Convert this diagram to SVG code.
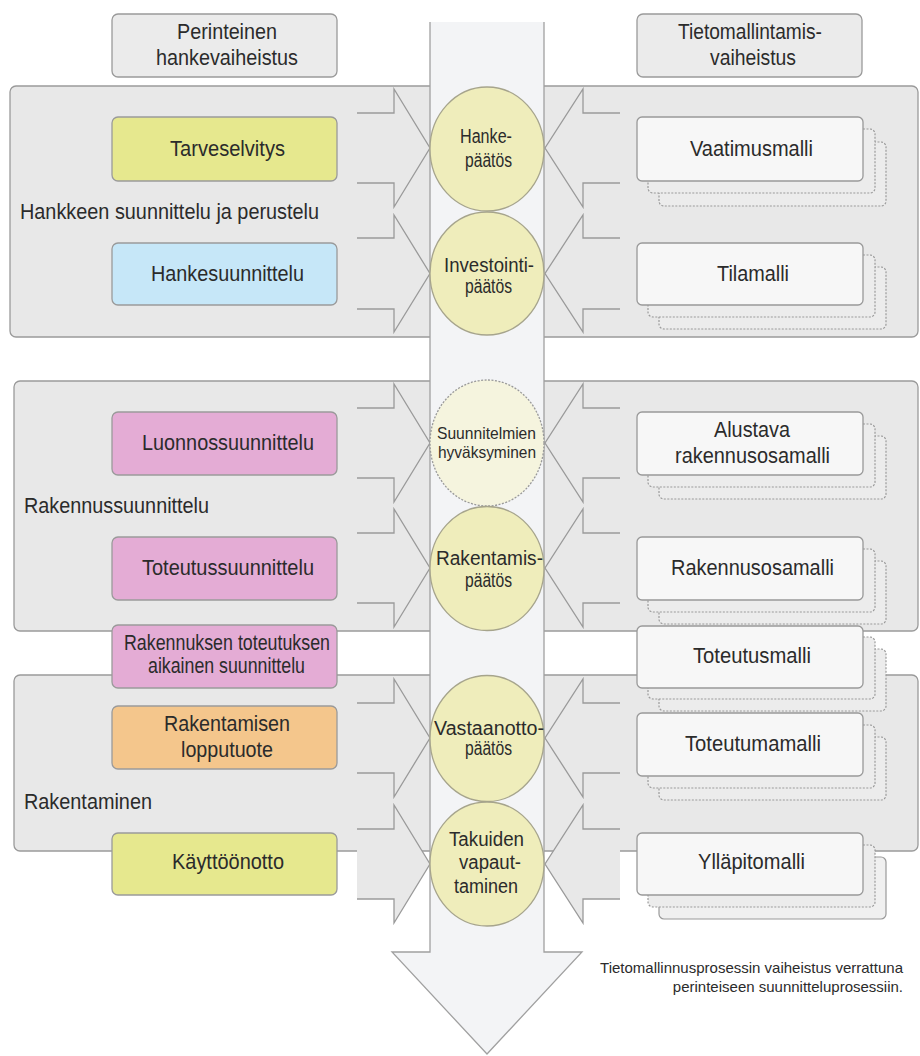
<svg xmlns="http://www.w3.org/2000/svg" width="920" height="1056" viewBox="0 0 920 1056">
<style>
.panel{fill:#e8e8e8;stroke:#9a9a9a;stroke-width:1.3}
.hdr{fill:#ebebeb;stroke:#9a9a9a;stroke-width:1.3}
.chev{fill:#e8e8e8;stroke:#9a9a9a;stroke-width:1.3}
.shaftfill{fill:#f3f4f6}
.shaftline{fill:none;stroke:#a0a0a0;stroke-width:1.3}
.circ{fill:#efedbb;stroke:#a6a48c;stroke-width:1.3}
.circd{fill:#f5f4de;stroke:#999;stroke-width:1.3;stroke-dasharray:2 1.5}
.lbox{stroke:#9a9a9a;stroke-width:1.3}
.ylw{fill:#e6e88e}
.blu{fill:#c6e7f8}
.pnk{fill:#e4acd5}
.org{fill:#f4c68c}
.mbox{fill:#f7f7f7;stroke:#999;stroke-width:1.3}
.copy{fill:#ececec;stroke:#9a9a9a;stroke-width:1.2;stroke-dasharray:2 1.5}
.copys{fill:#f0f0f0;stroke:#9a9a9a;stroke-width:1.2}
text{font-family:"Liberation Sans",Arial,sans-serif;fill:#2b2b2b}
.t{font-size:22px}
.c{font-size:19.5px}
.cs{font-size:16.5px}
.cap{font-size:15px;text-anchor:end}
</style>

<g id="panels">
<rect class="panel" x="10" y="86" width="908" height="251" rx="6"/>
<rect class="panel" x="14" y="381" width="904" height="250" rx="6"/>
<rect class="panel" x="14" y="675" width="904" height="176" rx="6"/>
<text class="t" x="20" y="219" textLength="299" lengthAdjust="spacingAndGlyphs">Hankkeen suunnittelu ja perustelu</text>
<text class="t" x="24" y="513" textLength="185" lengthAdjust="spacingAndGlyphs">Rakennussuunnittelu</text>
<text class="t" x="24" y="809" textLength="128" lengthAdjust="spacingAndGlyphs">Rakentaminen</text>
</g>

<g id="headers">
<g id="hdr-left">
<rect class="hdr" x="112" y="14" width="225" height="63" rx="6"/>
<text class="t" x="177" y="39" textLength="100" lengthAdjust="spacingAndGlyphs">Perinteinen</text>
<text class="t" x="156" y="65" textLength="142" lengthAdjust="spacingAndGlyphs">hankevaiheistus</text>
</g>
<g id="hdr-right">
<rect class="hdr" x="637" y="14" width="225" height="63" rx="6"/>
<text class="t" x="678" y="39" textLength="144" lengthAdjust="spacingAndGlyphs">Tietomallintamis-</text>
<text class="t" x="710" y="65" textLength="86" lengthAdjust="spacingAndGlyphs">vaiheistus</text>
</g>
</g>

<g id="connectors">
<path class="chev" d="M357,113 H394 V89 L430,148 L394,207 V183 H357"/>
<path class="chev" d="M357,238 H394 V215 L430,273.5 L394,332 V309 H357"/>
<path class="chev" d="M357,408 H394 V384 L430,443 L394,502 V478 H357"/>
<path class="chev" d="M357,533 H394 V509 L430,568 L394,627 V603 H357"/>
<path class="chev" d="M357,703 H394 V679 L430,738 L394,797 V773 H357"/>
<path class="chev" d="M357,829 H394 V805 L430,864 L394,923 V899 H357"/>
<path class="chev" d="M620,113 H583 V89 L545,148 L583,207 V183 H620"/>
<path class="chev" d="M620,238 H583 V215 L545,273.5 L583,332 V309 H620"/>
<path class="chev" d="M620,408 H583 V384 L545,443 L583,502 V478 H620"/>
<path class="chev" d="M620,533 H583 V509 L545,568 L583,627 V603 H620"/>
<path class="chev" d="M620,703 H583 V679 L545,738 L583,797 V773 H620"/>
<path class="chev" d="M620,829 H583 V805 L545,864 L583,923 V899 H620"/>
<g id="main-arrow">
<path class="shaftfill" d="M430,22 V952 H392 L487,1054 L582,952 H544 V22 Z"/>
<path class="shaftline" d="M430,22 V952 H392 L487,1054 L582,952 H544 V22"/>
</g>
</g>

<g id="c-hanke">
<ellipse class="circ" cx="487" cy="149" rx="57" ry="62"/>
<text class="c" x="460" y="143" textLength="52" lengthAdjust="spacingAndGlyphs">Hanke-</text>
<text class="c" x="465" y="167" textLength="47" lengthAdjust="spacingAndGlyphs">päätös</text>
</g>
<g id="c-investointi">
<ellipse class="circ" cx="487" cy="273.5" rx="57" ry="61.5"/>
<text class="c" x="444" y="272" textLength="90" lengthAdjust="spacingAndGlyphs">Investointi-</text>
<text class="c" x="465" y="293" textLength="47" lengthAdjust="spacingAndGlyphs">päätös</text>
</g>
<g id="c-suunnitelmien">
<ellipse class="circd" cx="487" cy="443" rx="57" ry="63"/>
<text class="cs" x="437" y="439" textLength="99" lengthAdjust="spacingAndGlyphs">Suunnitelmien</text>
<text class="cs" x="438" y="458" textLength="98" lengthAdjust="spacingAndGlyphs">hyväksyminen</text>
</g>
<g id="c-rakentamis">
<ellipse class="circ" cx="487" cy="568.5" rx="57" ry="62"/>
<text class="c" x="436" y="565" textLength="107" lengthAdjust="spacingAndGlyphs">Rakentamis-</text>
<text class="c" x="465" y="587" textLength="47" lengthAdjust="spacingAndGlyphs">päätös</text>
</g>
<g id="c-vastaanotto">
<ellipse class="circ" cx="487" cy="738.5" rx="57" ry="63"/>
<text class="c" x="434" y="735" textLength="110" lengthAdjust="spacingAndGlyphs">Vastaanotto-</text>
<text class="c" x="465" y="755" textLength="47" lengthAdjust="spacingAndGlyphs">päätös</text>
</g>
<g id="c-takuiden">
<ellipse class="circ" cx="487" cy="864" rx="57" ry="62"/>
<text class="c" x="449" y="846" textLength="75" lengthAdjust="spacingAndGlyphs">Takuiden</text>
<text class="c" x="459" y="869" textLength="62" lengthAdjust="spacingAndGlyphs">vapaut-</text>
<text class="c" x="454" y="893" textLength="64" lengthAdjust="spacingAndGlyphs">taminen</text>
</g>

<g id="b-tarveselvitys">
<rect class="lbox ylw" x="112" y="117" width="225" height="64" rx="6"/>
<text class="t" x="170" y="156" textLength="115" lengthAdjust="spacingAndGlyphs">Tarveselvitys</text>
</g>
<g id="b-hankesuunnittelu">
<rect class="lbox blu" x="112" y="243" width="225" height="62" rx="6"/>
<text class="t" x="151" y="281" textLength="153" lengthAdjust="spacingAndGlyphs">Hankesuunnittelu</text>
</g>
<g id="b-luonnossuunnittelu">
<rect class="lbox pnk" x="112" y="412" width="225" height="63" rx="6"/>
<text class="t" x="142" y="450" textLength="172" lengthAdjust="spacingAndGlyphs">Luonnossuunnittelu</text>
</g>
<g id="b-toteutussuunnittelu">
<rect class="lbox pnk" x="112" y="537" width="225" height="63" rx="6"/>
<text class="t" x="142" y="575" textLength="172" lengthAdjust="spacingAndGlyphs">Toteutussuunnittelu</text>
</g>
<g id="b-aikainen">
<rect class="lbox pnk" x="112" y="625" width="225" height="63" rx="6"/>
<text class="t" x="124" y="650" textLength="206" lengthAdjust="spacingAndGlyphs">Rakennuksen toteutuksen</text>
<text class="t" x="148" y="673" textLength="157" lengthAdjust="spacingAndGlyphs">aikainen suunnittelu</text>
</g>
<g id="b-lopputuote">
<rect class="lbox org" x="112" y="706" width="225" height="63" rx="6"/>
<text class="t" x="164" y="731" textLength="126" lengthAdjust="spacingAndGlyphs">Rakentamisen</text>
<text class="t" x="181" y="757" textLength="92" lengthAdjust="spacingAndGlyphs">lopputuote</text>
</g>
<g id="b-kayttoonotto">
<rect class="lbox ylw" x="112" y="833" width="225" height="62" rx="6"/>
<text class="t" x="172" y="869" textLength="112" lengthAdjust="spacingAndGlyphs">Käyttöönotto</text>
</g>

<g id="m-vaatimusmalli">
<rect class="copy" x="659" y="142" width="227" height="64" rx="5"/>
<rect class="copy" x="648" y="129" width="227" height="64" rx="5"/>
<rect class="mbox" x="637" y="117" width="226" height="64" rx="5"/>
<text class="t" x="690" y="156" textLength="123" lengthAdjust="spacingAndGlyphs">Vaatimusmalli</text>
</g>
<g id="m-tilamalli">
<rect class="copy" x="659" y="267" width="227" height="62" rx="5"/>
<rect class="copy" x="648" y="255" width="227" height="62" rx="5"/>
<rect class="mbox" x="637" y="243" width="226" height="62" rx="5"/>
<text class="t" x="717" y="281" textLength="72" lengthAdjust="spacingAndGlyphs">Tilamalli</text>
</g>
<g id="m-alustava">
<rect class="copy" x="659" y="436" width="227" height="63" rx="5"/>
<rect class="copy" x="648" y="424" width="227" height="63" rx="5"/>
<rect class="mbox" x="637" y="412" width="226" height="63" rx="5"/>
<text class="t" x="714" y="437" textLength="76" lengthAdjust="spacingAndGlyphs">Alustava</text>
<text class="t" x="675" y="463" textLength="155" lengthAdjust="spacingAndGlyphs">rakennusosamalli</text>
</g>
<g id="m-rakennusosamalli">
<rect class="copy" x="659" y="561" width="227" height="63" rx="5"/>
<rect class="copy" x="648" y="549" width="227" height="63" rx="5"/>
<rect class="mbox" x="637" y="537" width="226" height="63" rx="5"/>
<text class="t" x="671" y="575" textLength="163" lengthAdjust="spacingAndGlyphs">Rakennusosamalli</text>
</g>
<g id="m-toteutusmalli">
<rect class="copy" x="659" y="649" width="227" height="62" rx="5"/>
<rect class="copy" x="648" y="637" width="227" height="62" rx="5"/>
<rect class="mbox" x="637" y="626" width="226" height="62" rx="5"/>
<text class="t" x="693" y="663" textLength="118" lengthAdjust="spacingAndGlyphs">Toteutusmalli</text>
</g>
<g id="m-toteutumamalli">
<rect class="copy" x="659" y="737" width="227" height="63" rx="5"/>
<rect class="copy" x="648" y="725" width="227" height="63" rx="5"/>
<rect class="mbox" x="637" y="713" width="226" height="63" rx="5"/>
<text class="t" x="685" y="751" textLength="136" lengthAdjust="spacingAndGlyphs">Toteutumamalli</text>
</g>
<g id="m-yllapitomalli">
<rect class="copys" x="659" y="857" width="227" height="62" rx="5"/>
<rect class="copy" x="648" y="845" width="227" height="62" rx="5"/>
<rect class="mbox" x="637" y="833" width="226" height="62" rx="5"/>
<text class="t" x="698" y="869" textLength="107" lengthAdjust="spacingAndGlyphs">Ylläpitomalli</text>
</g>

<g id="caption">
<text class="cap" x="903" y="973">Tietomallinnusprosessin vaiheistus verrattuna</text>
<text class="cap" x="903" y="992">perinteiseen suunnitteluprosessiin.</text>
</g>
</svg>
